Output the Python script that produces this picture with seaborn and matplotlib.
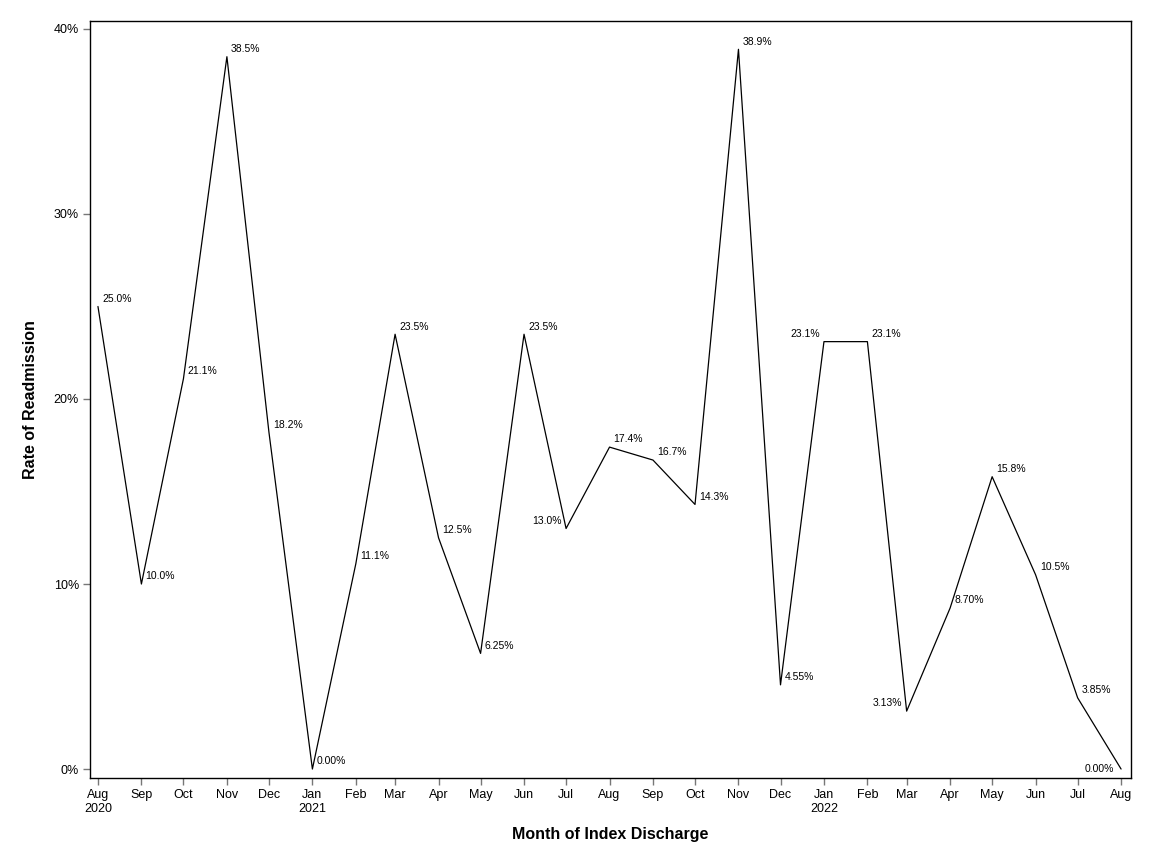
import numpy as np
import pandas as pd
import matplotlib
matplotlib.use("Agg")
import matplotlib.pyplot as plt
import matplotlib.ticker as mticker
import seaborn as sns

# monthly readmission rate (%) by month of index discharge
months = pd.date_range("2020-08-01", "2022-08-01", freq="MS")
rates = [25.0, 10.0, 21.1, 38.5, 18.2, 0.00, 11.1, 23.5, 12.5, 6.25, 23.5, 13.0,
         17.4, 16.7, 14.3, 38.9, 4.55, 23.1, 23.1, 3.13, 8.70, 15.8, 10.5, 3.85, 0.00]
# which side of the point each value label sits on
label_side = ["ne"] * 11 + ["nw"] + ["ne"] * 5 + ["nw", "ne", "nw"] + ["ne"] * 4 + ["w"]

df = pd.DataFrame({"month": months, "rate": rates})

sns.set_theme(style="ticks")
plt.rcParams["font.family"] = ["Liberation Sans", "DejaVu Sans"]

fig = plt.figure(figsize=(11.52, 8.64), dpi=100)
ax = fig.add_axes([0.0781, 0.0995, 0.9037, 0.8762])

sns.lineplot(data=df, x="month", y="rate", ax=ax, color="black", linewidth=0.9)


def fmt(v):
    return f"{v:.1f}%" if v >= 10 else f"{v:.2f}%"


for m, v, side in zip(df["month"], df["rate"], label_side):
    if side == "ne":
        off, ha = (3, 5.5), "left"
    elif side == "nw":
        off, ha = (-3, 5.5), "right"
    else:
        off, ha = (-5, 0), "right"
    ax.annotate(fmt(v), (m, v), xytext=off, textcoords="offset points",
                ha=ha, va="center", fontsize=7.5, color="black")

# tick labels: month abbreviation, year under the first month and each January
tick_labels = []
for i, m in enumerate(months):
    lab = m.strftime("%b")
    if i == 0 or m.month == 1:
        lab += "\n" + str(m.year)
    tick_labels.append(lab)

ax.set_xticks(months)
ax.set_xticklabels(tick_labels)
ax.set_xlim(months[0] - pd.Timedelta(days=5.7), months[-1] + pd.Timedelta(days=7.1))

ax.set_ylim(-0.486, 40.43)
ax.set_yticks([0, 10, 20, 30, 40])
ax.yaxis.set_major_formatter(mticker.FuncFormatter(lambda v, p: f"{v:.0f}%"))

ax.tick_params(axis="both", which="major", length=5, width=1, color="#777777",
               labelsize=9, labelcolor="black", direction="out", pad=3)

for s in ax.spines.values():
    s.set_visible(True)
    s.set_color("black")
    s.set_linewidth(1)

ax.set_xlabel("Month of Index Discharge", fontsize=11.5, fontweight="bold",
              labelpad=9, color="black")
ax.set_ylabel("Rate of Readmission", fontsize=11.5, fontweight="bold",
              labelpad=11, color="black")

fig.savefig("out.png", dpi=100)
